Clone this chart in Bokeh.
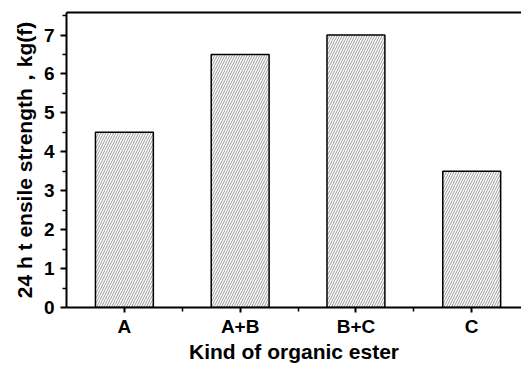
from bokeh.plotting import figure
from bokeh.models import FixedTicker, LinearAxis, Range1d, ColumnDataSource
from bokeh.embed import file_html
from bokeh.resources import INLINE

categories = ["A", "A+B", "B+C", "C"]
strength = [4.5, 6.5, 7.0, 3.5]
y_ticks = [0, 1, 2, 3, 4, 5, 6, 7]

xs = list(range(1, len(categories) + 1))
src = ColumnDataSource(dict(x=xs, top=strength))

FONT = "Liberation Sans"

p = figure(width=521, height=365, output_backend="svg", toolbar_location=None,
           x_range=Range1d(0.5, 4.43), y_range=Range1d(0, 7.58),
           min_border_left=66, min_border_right=0, min_border_top=12,
           min_border_bottom=50, x_axis_location=None, y_axis_location=None)
p.outline_line_color = None
p.xgrid.visible = False
p.ygrid.visible = False

p.vbar(x="x", top="top", width=0.5, bottom=0, source=src,
       fill_color="white", line_color="black", line_width=1.5,
       hatch_pattern="/", hatch_color="#999999", hatch_scale=5, hatch_weight=1)

# axes
xaxis = LinearAxis(
    ticker=FixedTicker(ticks=xs, minor_ticks=[x + 0.5 for x in xs[:-1]]),
    major_label_overrides={x: c for x, c in zip(xs, categories)},
    axis_label="Kind of organic ester")
yaxis = LinearAxis(
    ticker=FixedTicker(ticks=y_ticks, minor_ticks=[t + 0.5 for t in y_ticks]),
    axis_label="24 h t ensile strength，kg(f)")
top = LinearAxis(ticker=FixedTicker(ticks=[]), major_tick_out=0, major_tick_in=0,
                 minor_tick_out=0, minor_tick_in=0, major_label_standoff=0,
                 major_label_text_font_size="0px")

for ax in (xaxis, yaxis):
    ax.axis_line_width = 2
    ax.axis_line_color = "black"
    ax.major_tick_line_width = 2
    ax.minor_tick_line_width = 1.5
    ax.major_tick_line_color = "black"
    ax.minor_tick_line_color = "black"
    ax.major_tick_in = 0
    ax.minor_tick_in = 0
    ax.major_label_text_font = FONT
    ax.major_label_text_font_style = "bold"
    ax.major_label_text_font_size = "19px"
    ax.major_label_text_color = "black"
    ax.axis_label_text_font = FONT
    ax.axis_label_text_font_style = "bold"
    ax.axis_label_text_font_size = "21px"
    ax.axis_label_text_color = "black"

xaxis.major_tick_out = 5
xaxis.minor_tick_out = 4
xaxis.major_label_standoff = 3
xaxis.axis_label_standoff = 0
yaxis.major_tick_out = 6
yaxis.minor_tick_out = 4
yaxis.major_label_standoff = 6
yaxis.axis_label_standoff = 5

top.axis_line_width = 2
top.axis_line_color = "black"

p.add_layout(xaxis, "below")
p.add_layout(yaxis, "left")
p.add_layout(top, "above")

open("out.html", "w").write(file_html(p, INLINE))
